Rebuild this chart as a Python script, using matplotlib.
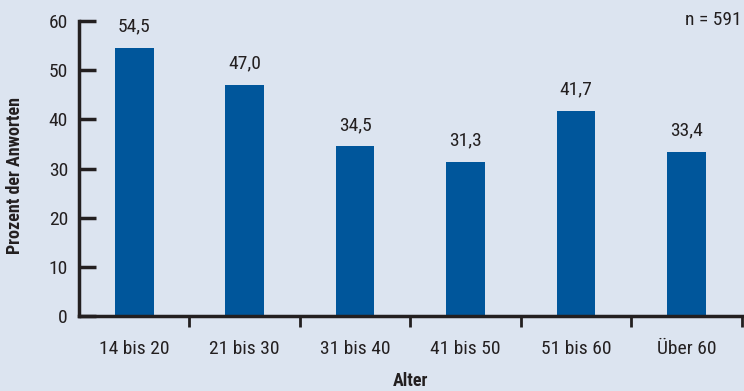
import matplotlib
matplotlib.use("Agg")
import matplotlib.pyplot as plt
from matplotlib import font_manager

categories = ["14 bis 20", "21 bis 30", "31 bis 40", "41 bis 50", "51 bis 60", "Über 60"]
values = [54.5, 47.0, 34.5, 31.3, 41.7, 33.4]
value_labels = ["54,5", "47,0", "34,5", "31,3", "41,7", "33,4"]
yticks = [0, 10, 20, 30, 40, 50, 60]

names = {f.name for f in font_manager.fontManager.ttflist}
fam = "DejaVu Sans"
for cand in ["Roboto Condensed", "Archivo Narrow", "IBM Plex Sans Condensed", "Fira Sans Extra Condensed"]:
    if cand in names:
        fam = cand
        break
plt.rcParams["font.family"] = [fam, "DejaVu Sans"]

bg = "#dce4f0"
bar_color = "#00569b"
txt = "#231f20"
fs = 14

fig = plt.figure(figsize=(7.44, 3.91), dpi=100, facecolor=bg)
ax = fig.add_axes([79/744, 1-316/391, 665/744, 295/391])
ax.set_facecolor(bg)

x = list(range(len(categories)))
ax.bar(x, values, width=0.35, color=bar_color, zorder=2)
for xi, v, lab in zip(x, values, value_labels):
    ax.annotate(lab, (xi, v), xytext=(0, 9), textcoords="offset points",
                ha="center", va="bottom", fontsize=fs, color=txt)

ax.set_xlim(-0.5, len(categories) - 0.5 + 0.02)
ax.set_ylim(0, 60)
ax.set_yticks(yticks)
ax.set_yticklabels([str(t) for t in yticks], fontsize=fs, color=txt)
ax.tick_params(axis="y", direction="in", length=12, width=2.5, color=txt, pad=8)

ax.set_xticks([i + 0.5 for i in x])
ax.set_xticklabels([])
ax.set_xticks(x, minor=True)
ax.set_xticklabels(categories, minor=True, fontsize=fs, color=txt)
ax.tick_params(axis="x", which="major", direction="out", length=8, width=2, color=txt)
ax.tick_params(axis="x", which="minor", length=0, pad=17)

for s in ["top", "right"]:
    ax.spines[s].set_visible(False)
for s in ["left", "bottom"]:
    ax.spines[s].set_linewidth(2.5)
    ax.spines[s].set_color(txt)

fig.text(15/744, 1-176/391, "Prozent der Anworten", rotation=90, ha="center", va="center",
         fontsize=13, fontweight="heavy", color=txt)
fig.text(411/744, 1-381/391, "Alter", ha="center", va="center",
         fontsize=13, fontweight="heavy", color=txt)
fig.text(742/744, 1-20/391, "n = 591", ha="right", va="center", fontsize=fs, color=txt)

fig.savefig("out.png", dpi=100, facecolor=bg)
